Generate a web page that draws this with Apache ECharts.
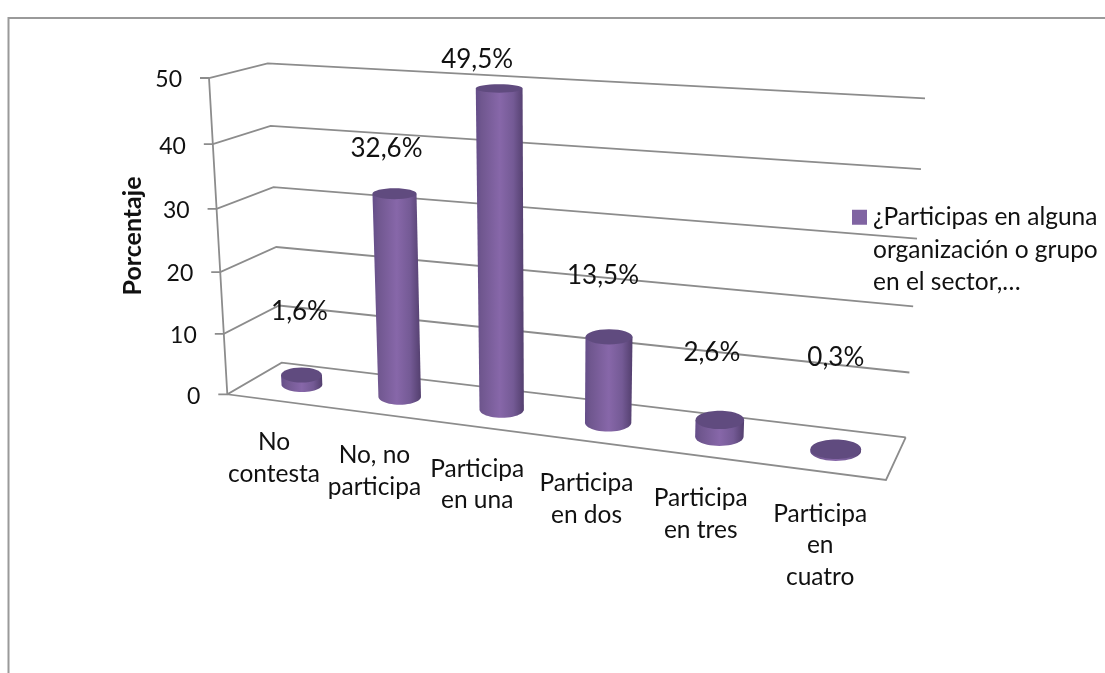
<!DOCTYPE html>
<html><head><meta charset="utf-8">
<script src="https://cdn.jsdelivr.net/npm/echarts@6/dist/echarts.min.js"></script>
<style>html,body{margin:0;padding:0;background:#fff}#c{width:1105px;height:673px}</style>
</head><body><div id="c"></div>
<script>
const categories = ['No\ncontesta','No, no\nparticipa','Participa\nen una','Participa\nen dos','Participa\nen tres','Participa\nen\ncuatro'];
const percentages = [1.6, 32.6, 49.5, 13.5, 2.6, 0.3];
const percentLabels = ['1,6%','32,6%','49,5%','13,5%','2,6%','0,3%'];
const yTicks = [0, 10, 20, 30, 40, 50];
const seriesName = '¿Participas en alguna organización o grupo en el sector,…';
const legendLines = ['¿Participas en alguna','organización o grupo','en el sector,…'];
const axisTitle = 'Porcentaje';

// View calibration of the 3D box (front = d0, back = d1; L/R, value 0 / max)
const view = {
  d0: {L0:[227.3,394.3], L1:[209,78], R0:[886,480], R1:[905,118]},
  d1: {L0:[281.7,362.7], L1:[267.7,63.3], R0:[905.7,437.3], R1:[925,98.3]},
  kU: 0.878, kT: 0.945
};
const persp = (a,k) => a*k/(1+(k-1)*a);
const mix = (a,b,f) => [a[0]+(b[0]-a[0])*f, a[1]+(b[1]-a[1])*f];
function project(u,t,d){
  const uu = persp(u,view.kU), tt = persp(t,view.kT);
  const face = f => mix(mix(f.L0,f.R0,uu), mix(f.L1,f.R1,uu), tt);
  return mix(face(view.d0), face(view.d1), d);
}
function norm(p,cs){ return [(p[0]-cs.x)/cs.width, (cs.y+cs.height-p[1])/cs.height]; }

const lineStyle = {stroke:'#8c8c8c', lineWidth:1.8, fill:null};
const font = 'Lato';
// manual label placement of the original, relative to the marks
const valueNudge = [[-2,-63],[-8,-45],[-22,-29],[-6,-61],[-8,-67],[0,-92]];
const catNudge = [-2,-2,-4,-4,-4,-4];
const BODY_W = 0.0355, RY = 0.225;

function ell(u,t){
  const c = project(u,t,0.5);
  const rx = (project(u+BODY_W,t,0.5)[0]-project(u-BODY_W,t,0.5)[0])/2;
  const ry = Math.abs(project(u,t,1)[1]-project(u,t,0)[1])*RY + 0.4;
  return {c,rx,ry};
}

function renderWall(params,api){
  const cs = params.coordSys;
  const t = norm(api.coord([0,api.value(1)]),cs)[1];
  const front = project(0,t,0), back = project(0,t,1), right = project(1,t,1);
  const children = [{type:'polyline',shape:{points:[[front[0]-9,front[1]],front,back,right]},style:lineStyle,silent:true}];
  if(params.dataIndex===0){
    children.push({type:'polyline',shape:{points:[project(0,1,0),front,project(1,0,0),right]},style:lineStyle,silent:true});
  }
  children.push({type:'text',style:{text:String(yTicks[params.dataIndex]),x:front[0]-27,y:front[1]+2,align:'right',verticalAlign:'middle',font:'23px '+font,fill:'#111'},silent:true});
  return {type:'group',children};
}

function renderBar(params,api){
  const cs = params.coordSys, i = params.dataIndex;
  const [u,t] = norm(api.coord([api.value(0),api.value(1)]),cs);
  const b = ell(u,0), top = ell(u,t);
  const pts = [[top.c[0]-top.rx,top.c[1]],[top.c[0]+top.rx,top.c[1]]];
  for(let a=0;a<=24;a++){
    const th = Math.PI*a/24;
    pts.push([b.c[0]+b.rx*Math.cos(th), b.c[1]+b.ry*Math.sin(th)]);
  }
  const grad = {type:'linear',x:0,y:0,x2:1,y2:0,colorStops:[
    {offset:0,color:'#644d89'},{offset:0.12,color:'#70578f'},{offset:0.5,color:'#8767a9'},
    {offset:0.78,color:'#745a95'},{offset:1,color:'#533f6e'}]};
  const nudge = valueNudge[i];
  return {type:'group',children:[
    {type:'polygon',shape:{points:pts},style:{fill:grad},silent:true},
    {type:'ellipse',shape:{cx:top.c[0],cy:top.c[1],rx:top.rx,ry:top.ry},style:{fill:'#604b7f'},silent:true},
    {type:'text',style:{text:percentLabels[i],x:top.c[0]+nudge[0],y:top.c[1]+nudge[1],align:'center',verticalAlign:'middle',font:'26px '+font,fill:'#111'},silent:true}
  ]};
}

function renderCat(params,api){
  const cs = params.coordSys, i = params.dataIndex;
  const [u] = norm(api.coord([api.value(0),0]),cs);
  const f = project(u,0,0);
  return {type:'text',style:{text:categories[i],x:f[0]+catNudge[i],y:f[1]+41-15,align:'center',verticalAlign:'top',lineHeight:31.5,font:'24.5px '+font,fill:'#111'},silent:true};
}

const chart = echarts.init(document.getElementById('c'),null,{renderer:'canvas'});
chart.setOption({
  animation:false,
  backgroundColor:'#fff',
  graphic:[
    {type:'polyline',shape:{points:[[8.5,673],[8.5,18],[1105,18]]},style:{stroke:'#9a9a9a',lineWidth:2,fill:null},silent:true}
  ],
  legend:{
    show:true,left:847,top:131,orient:'vertical',icon:'rect',itemWidth:15,itemHeight:15,itemGap:0,
    selectedMode:false,data:[seriesName],
    formatter:()=>'\n\n'+legendLines.join('\n'),
    textStyle:{fontFamily:font,fontSize:24.5,lineHeight:32.5,color:'#111',padding:[0,0,0,1]}
  },
  grid:{left:228,top:78,width:658,height:316},
  xAxis:{type:'category',data:categories,show:false},
  yAxis:{type:'value',min:0,max:50,interval:10,
    axisLine:{show:false},axisTick:{show:false},axisLabel:{show:false},splitLine:{show:false},
    name:axisTitle,nameLocation:'middle',nameGap:83,
    nameTextStyle:{fontFamily:font,fontWeight:'bold',fontSize:25,color:'#111'}},
  series:[
    {type:'custom',name:'walls',renderItem:renderWall,data:yTicks.map(v=>[0,v]),encode:{x:0,y:1},z:1,silent:true},
    {type:'custom',name:'cats',renderItem:renderCat,data:categories.map((c,i)=>[i,0]),encode:{x:0,y:1},z:2,silent:true},
    {type:'custom',name:seriesName,renderItem:renderBar,data:percentages.map((v,i)=>[i,v]),encode:{x:0,y:1},z:3,itemStyle:{color:'#8064a2'},silent:true}
  ]
});
</script></body></html>
